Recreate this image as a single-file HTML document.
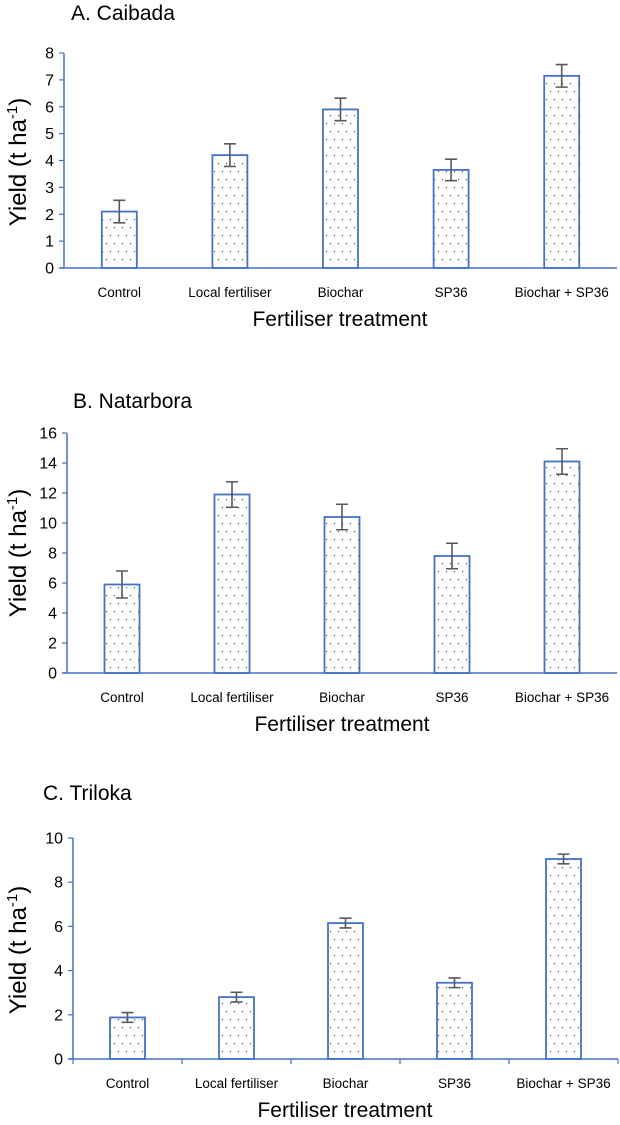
<!DOCTYPE html>
<html><head><meta charset="utf-8"><style>
html,body{margin:0;padding:0;background:#fff;}
svg{display:block;font-family:"Liberation Sans",Calibri,sans-serif;}
</style></head><body>
<svg id="fig" width="620" height="1125" viewBox="0 0 620 1125" xmlns="http://www.w3.org/2000/svg">
<defs>
<pattern id="dots" width="8" height="16" patternUnits="userSpaceOnUse">
<rect x="2" y="3" width="1.2" height="1.2" fill="#555"/>
<rect x="6" y="11" width="1.2" height="1.2" fill="#555"/>
</pattern>
</defs>
</svg>
<script>
const categories = ["Control","Local fertiliser","Biochar","SP36","Biochar + SP36"];
const valuesA = [2.1, 4.2, 5.9, 3.65, 7.15];
const errorsA = [0.42, 0.42, 0.42, 0.4, 0.42];
const valuesB = [5.9, 11.9, 10.4, 7.8, 14.1];
const errorsB = [0.9, 0.85, 0.85, 0.85, 0.85];
const valuesC = [1.88, 2.8, 6.15, 3.45, 9.05];
const errorsC = [0.22, 0.22, 0.22, 0.22, 0.22];
const ticksA = [0,1,2,3,4,5,6,7,8];
const ticksB = [0,2,4,6,8,10,12,14,16];
const ticksC = [0,2,4,6,8,10];

const NS = "http://www.w3.org/2000/svg";
const svg = document.getElementById('fig');
function mk(tag, attrs, parent){
  const e = document.createElementNS(NS, tag);
  for (const k in attrs) e.setAttribute(k, attrs[k]);
  (parent||svg).appendChild(e);
  return e;
}
const AX = "#4472C4";

function panel(p){
  const g = mk('g', {});
  
  
  const yMax = p.ticks[p.ticks.length-1];
  const ys = v => p.y0 - (v / yMax) * (p.y0 - p.yTop);
  const cw = (p.x1 - p.x0) / categories.length;
  const xs = i => p.x0 + cw * (i + 0.5);

  const t = mk('text', {x:p.titleX, y:p.titleY, 'font-size':21, fill:'#000'}, g);
  t.textContent = p.title;
  
  

  // y-axis
  const ya = mk('line', {x1:p.x0, y1:p.yTop, x2:p.x0, y2:p.y0, stroke:AX, 'stroke-width':1.5}, g);
  
  
  p.ticks.forEach(v => {
    const y = ys(v);
    mk('line', {x1:p.x0-5, y1:y, x2:p.x0, y2:y, stroke:AX, 'stroke-width':1.2}, g);
    const tl = mk('text', {x:p.x0-10, y:y+5.5, 'font-size':16, 'text-anchor':'end', fill:'#000'}, g);
    tl.textContent = v;
    
    
  });
  const yt = mk('text', {x:0, y:0, 'font-size':24, 'text-anchor':'middle', fill:'#000',
    transform:`translate(${p.yTitleX},${p.yTitleY}) rotate(-90)`}, g);
  yt.innerHTML = 'Yield (t ha<tspan dy="-9" font-size="15">-1</tspan><tspan dy="9">)</tspan>';
  
  

  // bars
  p.values.forEach((v, i) => {
    const x = xs(i), bw = 35, top = ys(v);
    const b = mk('rect', {x:x-bw/2, y:top, width:bw, height:p.y0-top, fill:'url(#dots)', stroke:AX, 'stroke-width':1.8}, g);
    
    
    const e = p.errors[i], yh = ys(v+e), yl = ys(v-e);
    const eb = mk('path', {d:`M${x},${yh}V${yl}M${x-6},${yh}H${x+6}M${x-6},${yl}H${x+6}`, stroke:'#595959', 'stroke-width':1.6, fill:'none'}, g);
    
    
    const cl = mk('text', {x:x, y:p.y0+29, 'font-size':13.5, 'text-anchor':'middle', fill:'#000'}, g);
    cl.textContent = categories[i];
    
    
  });
  // x-axis
  const xa = mk('line', {x1:p.x0-5, y1:p.y0, x2:p.x1, y2:p.y0, stroke:AX, 'stroke-width':1.5}, g);
  
  
  if (p.xTicks) {
    for (let i = 0; i <= categories.length; i++) {
      const x = p.x0 + cw * i;
      mk('line', {x1:x, y1:p.y0, x2:x, y2:p.y0+5, stroke:AX, 'stroke-width':1.2}, g);
    }
  }
  const xt = mk('text', {x:p.xTitleX, y:p.y0+58, 'font-size':21, 'text-anchor':'middle', fill:'#000'}, g);
  xt.textContent = 'Fertiliser treatment';
  
  
}

panel({id:'caibada', title:'A. Caibada', titleX:71, titleY:20, x0:64, x1:617, yTop:53, y0:268,
  ticks:ticksA, values:valuesA, errors:errorsA, yTitleX:26, yTitleY:162, xTitleX:340, xTicks:false});
panel({id:'natarbora', title:'B. Natarbora', titleX:73, titleY:408, x0:67, x1:617, yTop:433, y0:673,
  ticks:ticksB, values:valuesB, errors:errorsB, yTitleX:26, yTitleY:553, xTitleX:342, xTicks:false});
panel({id:'triloka', title:'C. Triloka', titleX:43, titleY:800, x0:73, x1:618, yTop:838, y0:1059,
  ticks:ticksC, values:valuesC, errors:errorsC, yTitleX:26, yTitleY:950, xTitleX:345, xTicks:true});
</script>
</body></html>
